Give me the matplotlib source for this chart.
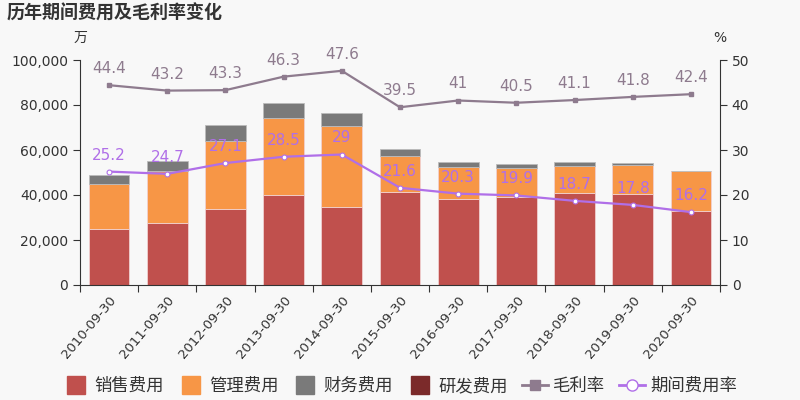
import matplotlib
matplotlib.use('Agg')
import matplotlib.pyplot as plt
import numpy as np
from matplotlib.lines import Line2D
from matplotlib.patches import FancyBboxPatch

plt.rcParams['font.family'] = ['DejaVu Sans', 'Noto Sans CJK SC']

# data (万)
dates = ['2010-09-30', '2011-09-30', '2012-09-30', '2013-09-30', '2014-09-30', '2015-09-30',
         '2016-09-30', '2017-09-30', '2018-09-30', '2019-09-30', '2020-09-30']
sales = [24700, 27700, 33600, 39900, 34800, 41200, 38100, 39300, 40900, 40600, 33000]
admin = [20000, 23000, 30300, 34200, 36000, 16000, 14500, 12600, 12100, 12900, 17500]
fin = [4200, 4600, 7100, 6800, 5600, 3400, 2100, 1900, 1700, 700, 200]
rd = [0, 0, 0, 0, 0, 0, 0, 0, 0, 0, 0]
gross = [44.4, 43.2, 43.3, 46.3, 47.6, 39.5, 41, 40.5, 41.1, 41.8, 42.4]
period = [25.2, 24.7, 27.1, 28.5, 29, 21.6, 20.3, 19.9, 18.7, 17.8, 16.2]

c_sales = '#c0504d'
c_admin = '#f79646'
c_fin = '#7a7a7a'
c_rd = '#7b2a2a'
c_gross = '#8e7b8e'
c_period = '#b06fe8'
bg = '#f8f8f8'

fig = plt.figure(figsize=(8, 4), dpi=100, facecolor=bg)
ax = fig.add_axes([0.1, 0.2875, 0.8, 0.5625], facecolor=bg)
x = np.arange(len(dates))
w = 0.7
ec = '#f0d0d0'
b1 = np.array(sales)
b2 = b1 + np.array(admin)
b3 = b2 + np.array(fin)
ax.bar(x, sales, w, color=c_sales, edgecolor=ec, linewidth=0.6)
ax.bar(x, admin, w, bottom=b1, color=c_admin, edgecolor=ec, linewidth=0.6)
ax.bar(x, fin, w, bottom=b2, color=c_fin, edgecolor='#bbbbbb', linewidth=0.6)
ax.bar(x, rd, w, bottom=b3, color=c_rd, linewidth=0)

ax.set_xlim(-0.5, len(dates) - 0.5)
ax.set_ylim(0, 100000)
ax.set_yticks(np.arange(0, 100001, 20000))
ax.set_yticklabels([f'{v:,}' for v in range(0, 100001, 20000)], fontsize=10, color='#333333')
ax.set_xticks(np.arange(-0.5, len(dates), 1))
ax.set_xticklabels([])
ax.set_xticks(x, minor=True)
ax.set_xticklabels(dates, minor=True, rotation=50, ha='right', rotation_mode='anchor',
                   fontsize=9.5, color='#333333')
ax.tick_params(axis='x', which='minor', length=0, pad=6)
ax.tick_params(axis='x', which='major', length=5, color='#333333')
ax.tick_params(axis='y', length=5, color='#333333')
for s in ['top', 'right']:
    ax.spines[s].set_visible(False)
ax.spines['left'].set_color('#333333')
ax.spines['bottom'].set_color('#333333')

ax2 = ax.twinx()
ax2.set_ylim(0, 50)
ax2.set_yticks(np.arange(0, 51, 10))
ax2.tick_params(axis='y', labelsize=10, labelcolor='#333333', length=5, color='#333333')
for s in ['top', 'left', 'bottom']:
    ax2.spines[s].set_visible(False)
ax2.spines['right'].set_color('#333333')

ax2.plot(x, gross, color=c_gross, lw=1.6, marker='s', ms=3.5, mfc=c_gross, mec=c_gross)
ax2.plot(x, period, color=c_period, lw=1.6, marker='o', ms=3.5, mfc='white', mec=c_period, mew=0.8)
for i in range(len(x)):
    ax2.text(x[i], gross[i] + 2, f'{gross[i]:g}', ha='center', va='bottom', fontsize=11, color=c_gross)
    ax2.text(x[i], period[i] + 2, f'{period[i]:g}', ha='center', va='bottom', fontsize=11, color=c_period)

fig.text(0.008, 0.965, '历年期间费用及毛利率变化', fontsize=13, fontweight='bold', color='#333333', va='center')
fig.text(0.1, 0.905, '万', fontsize=10, color='#333333', ha='center', va='center')
fig.text(0.9, 0.905, '%', fontsize=10, color='#333333', ha='center', va='center')

sq = dict(marker='s', ms=13, lw=0, linestyle='none')
handles = [
    Line2D([], [], mfc=c_sales, mec=c_sales, **sq),
    Line2D([], [], mfc=c_admin, mec=c_admin, **sq),
    Line2D([], [], mfc=c_fin, mec=c_fin, **sq),
    Line2D([], [], mfc=c_rd, mec=c_rd, **sq),
    Line2D([], [], color=c_gross, lw=2, marker='s', ms=7, mfc=c_gross),
    Line2D([], [], color=c_period, lw=2, marker='o', ms=8, mfc='white', mec=c_period),
]
labels = ['销售费用', '管理费用', '财务费用', '研发费用', '毛利率', '期间费用率']
fig.legend(handles, labels, loc='center', bbox_to_anchor=(0.5, 0.035), ncol=6, frameon=False,
           fontsize=12.5, handlelength=1.5, handletextpad=0.3, columnspacing=0.8,
           labelcolor='#333333')

fig.savefig('out.png', dpi=100, facecolor=bg)
